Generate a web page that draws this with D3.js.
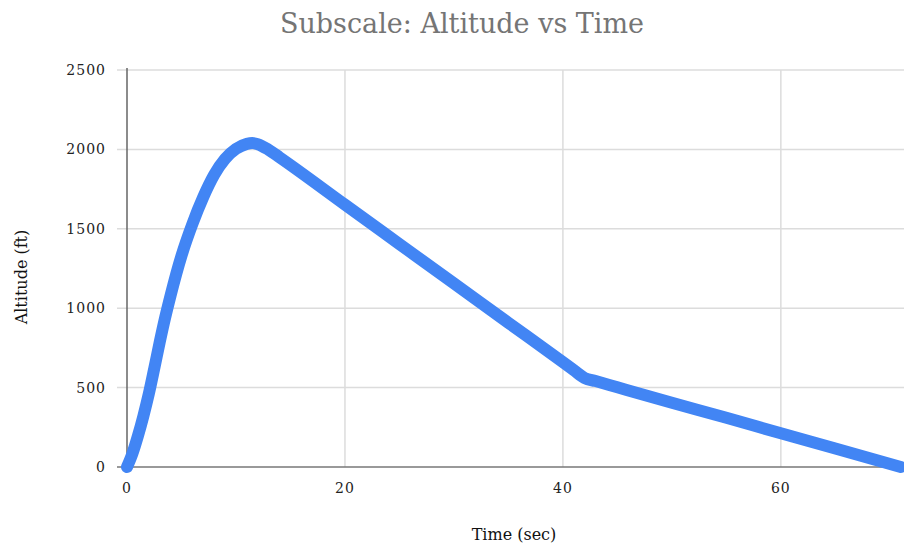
<!DOCTYPE html>
<html>
<head>
<meta charset="utf-8">
<script src="https://d3js.org/d3.v7.min.js"></script>
<style>
  body { margin: 0; background: #fff; }
  svg text { font-family: "DejaVu Serif", "Liberation Serif", serif; }
</style>
</head>
<body>
<div id="chart"></div>
<script>
// flight profile
var timeSec = [0, 0.5, 1, 1.5, 2, 2.5, 3, 3.5, 4, 5, 6, 7, 8, 9, 10, 11, 11.5, 12, 13, 14,
               20, 25, 30, 35, 40, 41, 42, 43, 45, 50, 55, 60, 65, 71];
var altitudeFt = [0, 85, 195, 320, 460, 620, 785, 940, 1080, 1330, 1530, 1700, 1840, 1940, 2003, 2035, 2040, 2033, 1997, 1950,
                  1652, 1404, 1156, 908, 660, 610, 560, 541, 502, 405, 310, 212, 116, 0];
var yTicks = [0, 500, 1000, 1500, 2000, 2500];
var xTicks = [0, 20, 40, 60];

var width = 904, height = 545;
var plotLeft = 127, plotRight = 904, plotTop = 70, plotBottom = 467;

var svg = d3.select("#chart").append("svg")
    .attr("width", width)
    .attr("height", height);

var x = d3.scaleLinear().domain([0, 71.3]).range([plotLeft, plotRight]);
var y = d3.scaleLinear().domain([0, 2500]).range([plotBottom, plotTop]);

// grid
svg.append("g").selectAll("line")
    .data(yTicks.filter(function(d) { return d > 0; }))
    .enter().append("line")
    .attr("x1", plotLeft - 10).attr("x2", plotRight)
    .attr("y1", function(d) { return y(d); })
    .attr("y2", function(d) { return y(d); })
    .attr("stroke", "#dcdcdc")
    .attr("stroke-width", 1.5);

svg.append("g").selectAll("line")
    .data(xTicks.filter(function(d) { return d > 0; }))
    .enter().append("line")
    .attr("x1", function(d) { return x(d); })
    .attr("x2", function(d) { return x(d); })
    .attr("y1", plotTop).attr("y2", plotBottom)
    .attr("stroke", "#dcdcdc")
    .attr("stroke-width", 1.5);

// axis lines
svg.append("line")
    .attr("x1", plotLeft).attr("x2", plotLeft)
    .attr("y1", plotTop - 2).attr("y2", plotBottom)
    .attr("stroke", "#666").attr("stroke-width", 1.5);
svg.append("line")
    .attr("x1", plotLeft - 10).attr("x2", plotRight)
    .attr("y1", plotBottom).attr("y2", plotBottom)
    .attr("stroke", "#777").attr("stroke-width", 1.5);

// tick labels
svg.append("g").selectAll("text")
    .data(yTicks)
    .enter().append("text")
    .attr("x", 106)
    .attr("y", function(d) { return y(d) + 5; })
    .attr("text-anchor", "end")
    .attr("font-size", 14)
    .attr("letter-spacing", 1)
    .attr("fill", "#222")
    .text(function(d) { return d; });

svg.append("g").selectAll("text")
    .data(xTicks)
    .enter().append("text")
    .attr("x", function(d) { return x(d); })
    .attr("y", 493)
    .attr("text-anchor", "middle")
    .attr("font-size", 14)
    .attr("letter-spacing", 1)
    .attr("fill", "#222")
    .text(function(d) { return d; });

// the line
var line = d3.line()
    .x(function(d, i) { return x(timeSec[i]); })
    .y(function(d) { return y(d); })
    .curve(d3.curveMonotoneX);

svg.append("path")
    .datum(altitudeFt)
    .attr("d", line)
    .attr("fill", "none")
    .attr("stroke", "#4285f4")
    .attr("stroke-width", 12)
    .attr("stroke-linejoin", "round")
    .attr("stroke-linecap", "round");

// titles
svg.append("text")
    .attr("x", 462).attr("y", 33)
    .attr("text-anchor", "middle")
    .attr("font-size", 27)
    .attr("fill", "#757575")
    .text("Subscale: Altitude vs Time");

svg.append("text")
    .attr("x", 514).attr("y", 540)
    .attr("text-anchor", "middle")
    .attr("font-size", 16)
    .attr("fill", "#111")
    .text("Time (sec)");

svg.append("text")
    .attr("transform", "translate(27,277) rotate(-90)")
    .attr("text-anchor", "middle")
    .attr("font-size", 16)
    .attr("fill", "#111")
    .text("Altitude (ft)");
</script>
</body>
</html>
